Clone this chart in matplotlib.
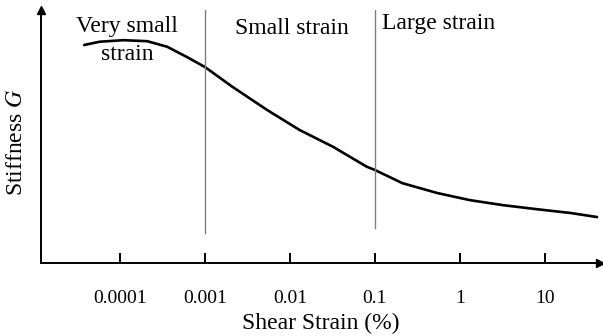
import matplotlib.pyplot as plt
import numpy as np

plt.rcParams['font.family'] = ['Liberation Serif', 'DejaVu Serif']
plt.rcParams['mathtext.fontset'] = 'stix'

# shear strain (%) and normalised stiffness
strain = [3.8e-5, 5.8e-5, 1.1e-4, 2.1e-4, 3.6e-4, 6.1e-4, 1e-3, 2.1e-3, 5.4e-3, 1.3e-2,
          3.2e-2, 8e-2, 0.1, 0.21, 0.54, 1.3, 3.2, 8, 20, 41]
stiffness = [0.862, 0.875, 0.881, 0.877, 0.855, 0.815, 0.775, 0.697, 0.605, 0.526,
             0.460, 0.381, 0.368, 0.316, 0.277, 0.249, 0.229, 0.213, 0.198, 0.182]

tick_vals = [1e-4, 1e-3, 1e-2, 1e-1, 1, 10]
tick_labels = ["0.0001", "0.001", "0.01", "0.1", "1", "10"]

# strain range boundaries and how far down each divider runs
boundaries = [1e-3, 1e-1]
boundary_bottoms = [0.119, 0.138]

fig = plt.figure(figsize=(6.03, 3.36), dpi=100)
ax = fig.add_axes([0.068, 0.217, 0.927, 0.753])

ax.plot(strain, stiffness, color="black", lw=1.9, solid_capstyle="round",
        solid_joinstyle="round")

for b, y0 in zip(boundaries, boundary_bottoms):
    ax.plot([b, b], [y0, 1.0], color="#808080", lw=1.0)

ax.set_xscale("log")
ax.set_xlim(1.18e-5, 44.4)
ax.set_ylim(0, 1)

ax.spines["top"].set_visible(False)
ax.spines["right"].set_visible(False)
ax.spines["left"].set_linewidth(1.4)
ax.spines["bottom"].set_linewidth(1.4)

# arrow heads on both axes
ax.plot(1, 0, ">k", markersize=6, transform=ax.transAxes, clip_on=False)
ax.plot(0, 1, "^k", markersize=6, transform=ax.transAxes, clip_on=False)

ax.set_xticks(tick_vals)
ax.set_xticklabels(tick_labels)
ax.xaxis.set_minor_locator(plt.NullLocator())
ax.tick_params(axis="x", direction="in", length=7, width=1.4, pad=19.5, labelsize=14)
ax.set_yticks([])

ax.set_xlabel("Shear Strain (%)", fontsize=17, labelpad=4)
ax.set_ylabel("Stiffness $\\it{G}$", fontsize=17)
ax.yaxis.set_label_coords(-0.025, 0.478)

ax.text(1.21e-4, 0.975, "Very small\nstrain", ha="center", va="top", fontsize=17,
        linespacing=1.4)
ax.text(1.05e-2, 0.97, "Small strain", ha="center", va="top", fontsize=17)
ax.text(0.121, 0.99, "Large strain", ha="left", va="top", fontsize=17)

fig.savefig("out.png", dpi=100)
